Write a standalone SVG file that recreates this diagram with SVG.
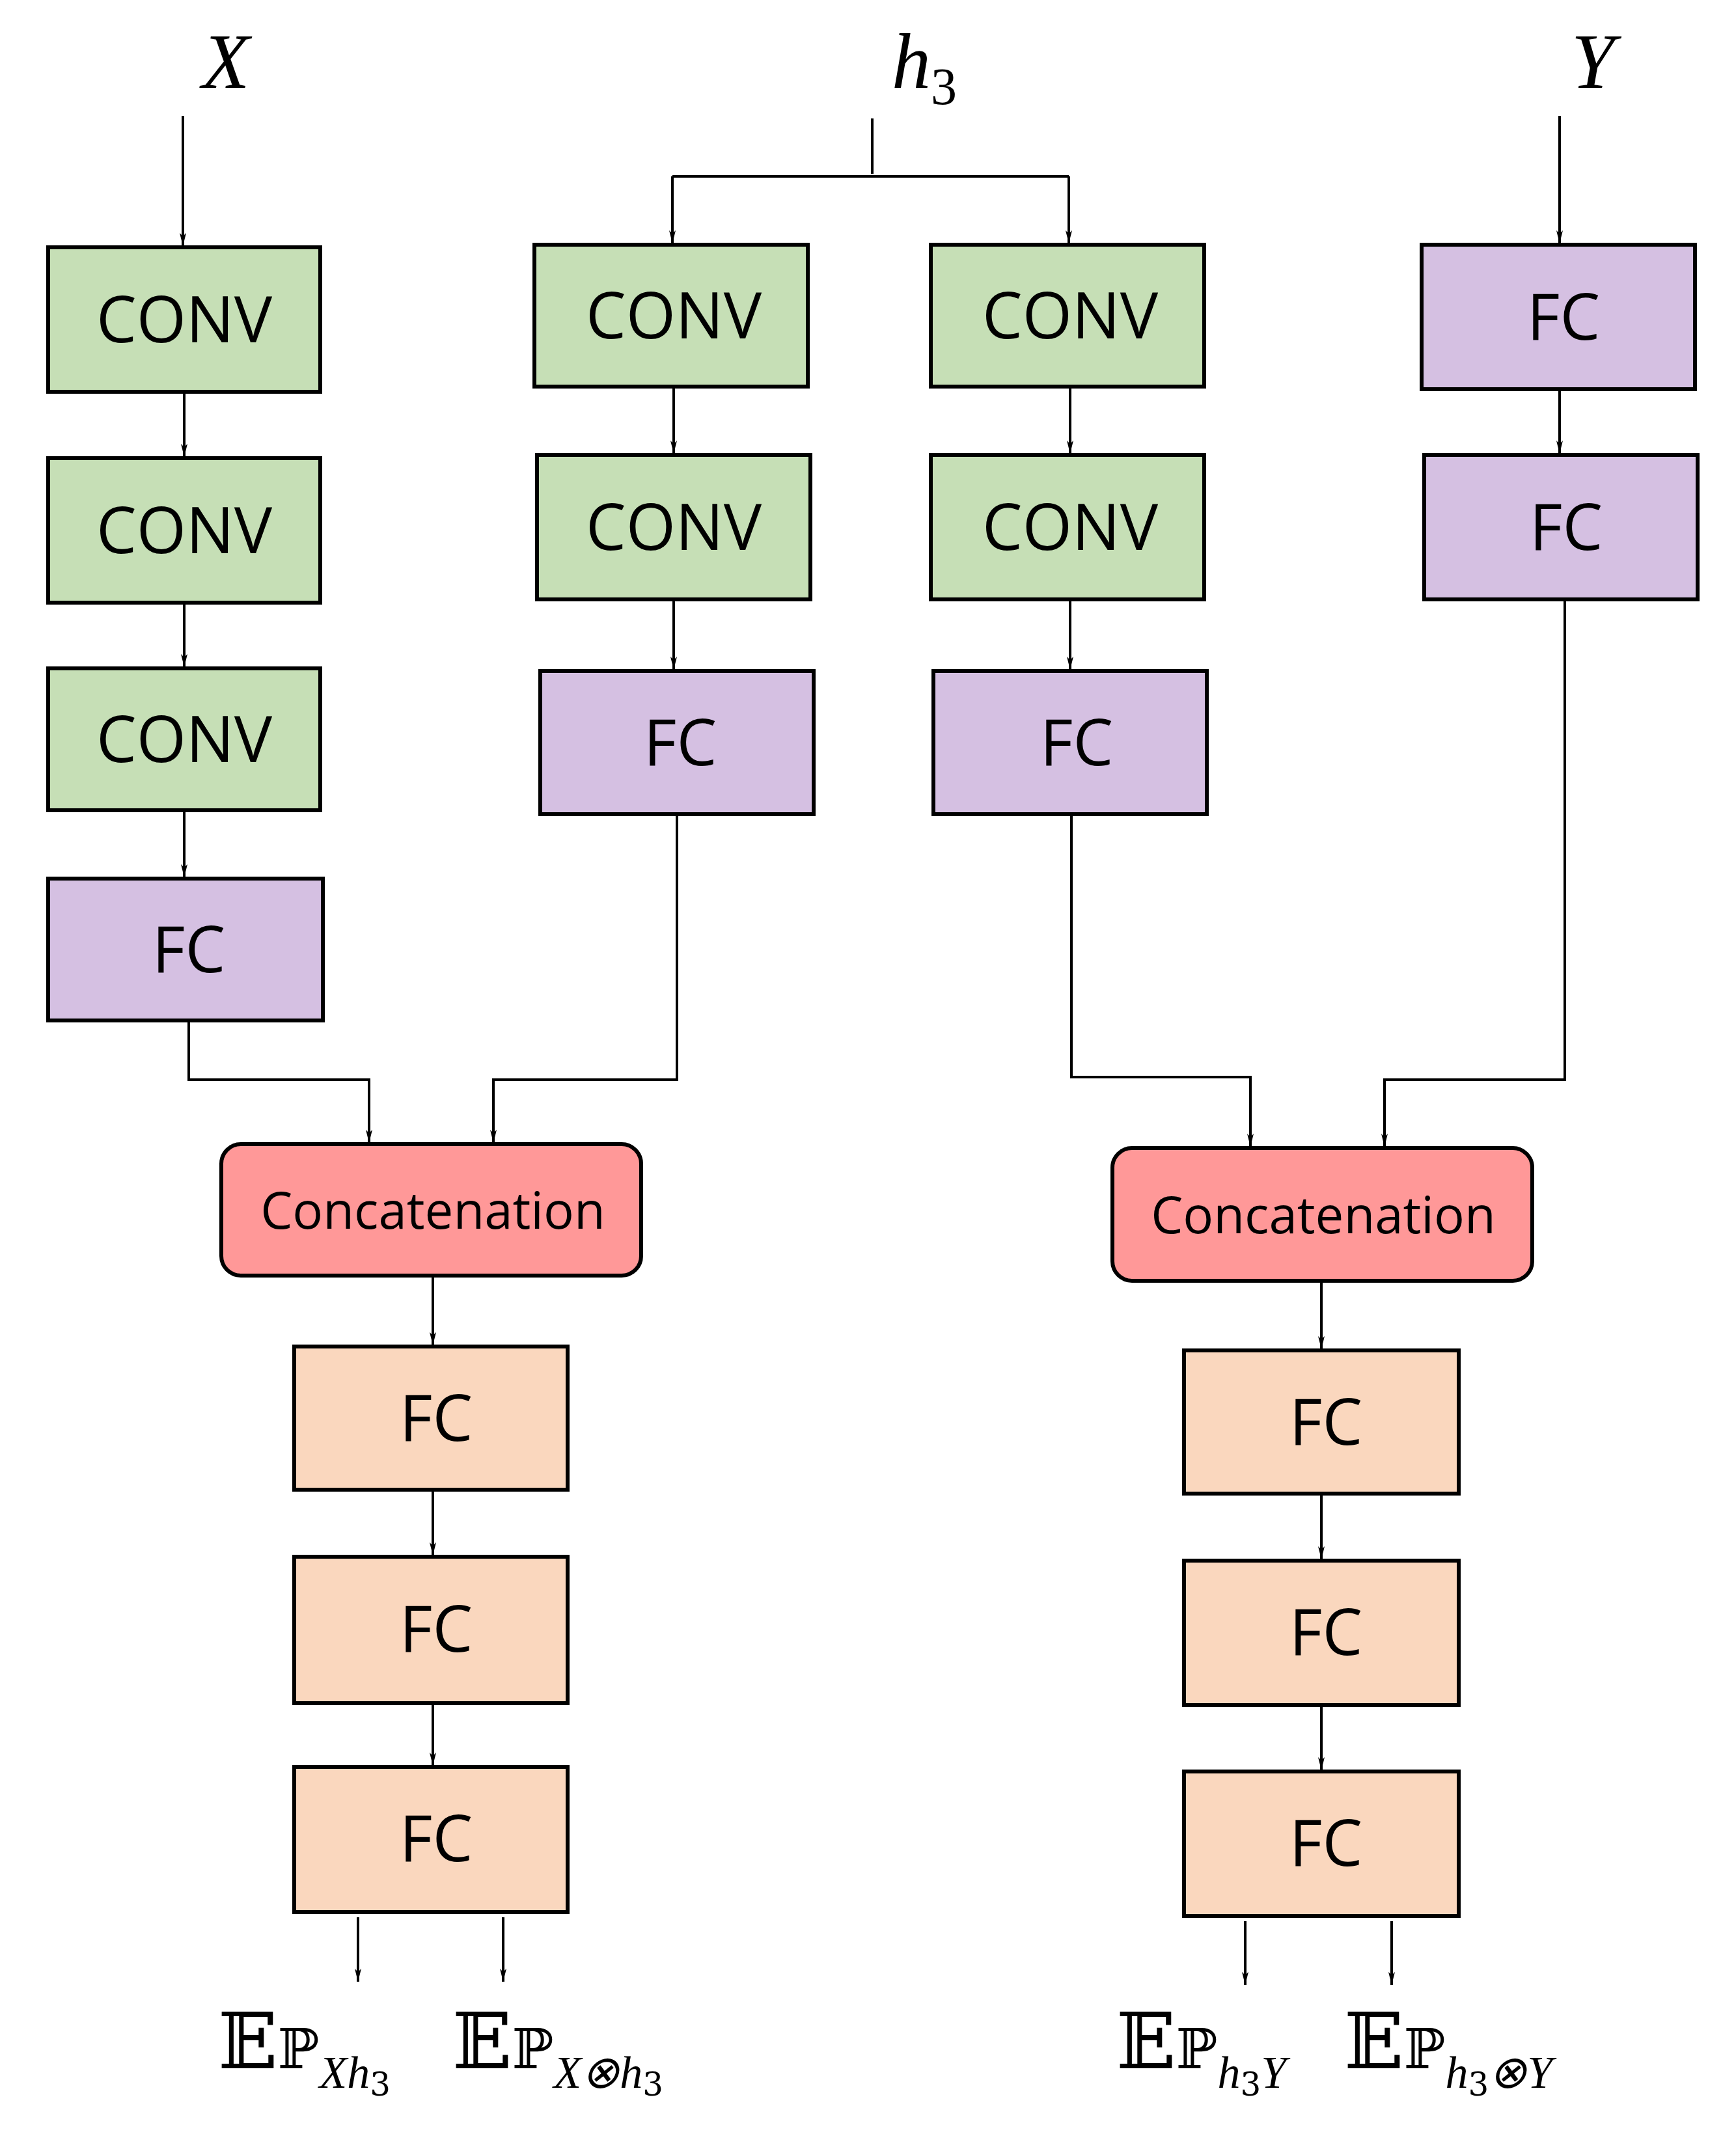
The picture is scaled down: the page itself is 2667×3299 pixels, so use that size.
<svg xmlns="http://www.w3.org/2000/svg" width="2667" height="3299" viewBox="0 0 2667 3299">
<defs>
<marker id="ah" viewBox="0 0 20 10" refX="20" refY="5" markerWidth="20" markerHeight="10" markerUnits="userSpaceOnUse" orient="auto">
<path d="M0,0 L20,5 L0,10 L5,5 z" fill="#000"/>
</marker>
<style>
.g{fill:#c6dfb6;stroke:#000;stroke-width:6}
.p{fill:#d5c0e2;stroke:#000;stroke-width:6}
.o{fill:#fad7be;stroke:#000;stroke-width:6}
.r{fill:#ff9898;stroke:#000;stroke-width:6}
.t{font-family:"Open Sans","Noto Sans",sans-serif;font-size:98px;text-anchor:middle;fill:#000}
.c{font-family:"Open Sans","Noto Sans",sans-serif;font-size:78px;text-anchor:middle;fill:#000}
.m{font-family:"Liberation Serif",serif;font-style:italic;fill:#000}
.e{font-family:"DejaVu Serif","DejaVu Sans",serif;fill:#000}
.k{fill:none;stroke:#000;stroke-width:4}
.a{fill:none;stroke:#000;stroke-width:4;marker-end:url(#ah)}
</style>
</defs>
<rect width="2667" height="3299" fill="#fff"/>
<g id="labels">
<text class="m" x="347" y="135" font-size="120" text-anchor="middle">X</text>
<text class="m" x="1370" y="135" font-size="120">h<tspan font-size="80" dy="25" font-style="normal">3</tspan></text>
<text class="m" x="2447" y="135" font-size="120" text-anchor="middle">Y</text>
</g>
<g id="n1"><rect class="g" x="74" y="380" width="418" height="222"/><text class="t" x="283" y="526">CONV</text></g>
<g id="n2"><rect class="g" x="74" y="704" width="418" height="222"/><text class="t" x="283" y="850">CONV</text></g>
<g id="n3"><rect class="g" x="74" y="1027" width="418" height="218"/><text class="t" x="283" y="1171">CONV</text></g>
<g id="n4"><rect class="p" x="74" y="1350" width="422" height="218"/><text class="t" x="290" y="1494">FC</text></g>
<g id="n5"><rect class="g" x="821" y="376" width="420" height="218"/><text class="t" x="1035" y="520">CONV</text></g>
<g id="n6"><rect class="g" x="825" y="699" width="420" height="222"/><text class="t" x="1035" y="845">CONV</text></g>
<g id="n7"><rect class="p" x="830" y="1031" width="420" height="220"/><text class="t" x="1045" y="1176">FC</text></g>
<g id="n8"><rect class="g" x="1430" y="376" width="420" height="218"/><text class="t" x="1644" y="520">CONV</text></g>
<g id="n9"><rect class="g" x="1430" y="699" width="420" height="222"/><text class="t" x="1644" y="845">CONV</text></g>
<g id="n10"><rect class="p" x="1434" y="1031" width="420" height="220"/><text class="t" x="1654" y="1176">FC</text></g>
<g id="n11"><rect class="p" x="2184" y="376" width="420" height="222"/><text class="t" x="2402" y="522">FC</text></g>
<g id="n12"><rect class="p" x="2188" y="699" width="420" height="222"/><text class="t" x="2406" y="845">FC</text></g>
<g id="n13"><rect class="r" x="340" y="1758" width="645" height="202" rx="30"/><text class="c" x="665" y="1888">Concatenation</text></g>
<g id="n14"><rect class="r" x="1709" y="1764" width="645" height="204" rx="30"/><text class="c" x="2033" y="1895">Concatenation</text></g>
<g id="n15"><rect class="o" x="452" y="2069" width="420" height="220"/><text class="t" x="670" y="2214">FC</text></g>
<g id="n16"><rect class="o" x="452" y="2392" width="420" height="225"/><text class="t" x="670" y="2538">FC</text></g>
<g id="n17"><rect class="o" x="452" y="2715" width="420" height="223"/><text class="t" x="670" y="2860">FC</text></g>
<g id="n18"><rect class="o" x="1819" y="2075" width="422" height="220"/><text class="t" x="2037" y="2220">FC</text></g>
<g id="n19"><rect class="o" x="1819" y="2398" width="422" height="222"/><text class="t" x="2037" y="2543">FC</text></g>
<g id="n20"><rect class="o" x="1819" y="2722" width="422" height="222"/><text class="t" x="2037" y="2867">FC</text></g>
<g id="outputs">
<text class="e" x="335" y="3178" font-size="120">𝔼<tspan font-size="85">ℙ</tspan><tspan class="m" font-size="70" dy="30">Xh</tspan><tspan font-size="50" dy="12">3</tspan></text>
<text class="e" x="695" y="3178" font-size="120">𝔼<tspan font-size="85">ℙ</tspan><tspan class="m" font-size="70" dy="30">X⊗h</tspan><tspan font-size="50" dy="12">3</tspan></text>
<text class="e" x="1715" y="3178" font-size="120">𝔼<tspan font-size="85">ℙ</tspan><tspan class="m" font-size="70" dy="30">h</tspan><tspan font-size="50" dy="12">3</tspan><tspan class="m" font-size="70" dy="-12">Y</tspan></text>
<text class="e" x="2065" y="3178" font-size="120">𝔼<tspan font-size="85">ℙ</tspan><tspan class="m" font-size="70" dy="30">h</tspan><tspan font-size="50" dy="12">3</tspan><tspan class="m" font-size="70" dy="-12">⊗Y</tspan></text>
</g>
<g id="connectors">
<path class="a" d="M281,178 V378"/>
<path class="k" d="M1340,182 V267"/>
<path class="a" d="M1033,271 H1642 M1033,271 V374"/>
<path class="a" d="M1642,271 V374"/>
<path class="a" d="M2396,178 V374"/>
<path class="a" d="M283,603 V702"/>
<path class="a" d="M283,926 V1025"/>
<path class="a" d="M283,1245 V1348"/>
<path class="a" d="M1035,594 V697"/>
<path class="a" d="M1035,921 V1029"/>
<path class="a" d="M1644,594 V697"/>
<path class="a" d="M1644,921 V1029"/>
<path class="a" d="M2396,598 V697"/>
<path class="a" d="M290,1569 V1659 H567 V1756"/>
<path class="a" d="M1040,1251 V1659 H758 V1756"/>
<path class="a" d="M1646,1251 V1655 H1921 V1762"/>
<path class="a" d="M2404,921 V1659 H2127 V1762"/>
<path class="a" d="M665,1960 V2067"/>
<path class="a" d="M665,2289 V2390"/>
<path class="a" d="M665,2617 V2713"/>
<path class="a" d="M2030,1968 V2073"/>
<path class="a" d="M2030,2295 V2396"/>
<path class="a" d="M2030,2620 V2720"/>
<path class="a" d="M550,2946 V3045"/>
<path class="a" d="M773,2946 V3045"/>
<path class="a" d="M1913,2952 V3050"/>
<path class="a" d="M2138,2952 V3050"/>
</g>
</svg>
